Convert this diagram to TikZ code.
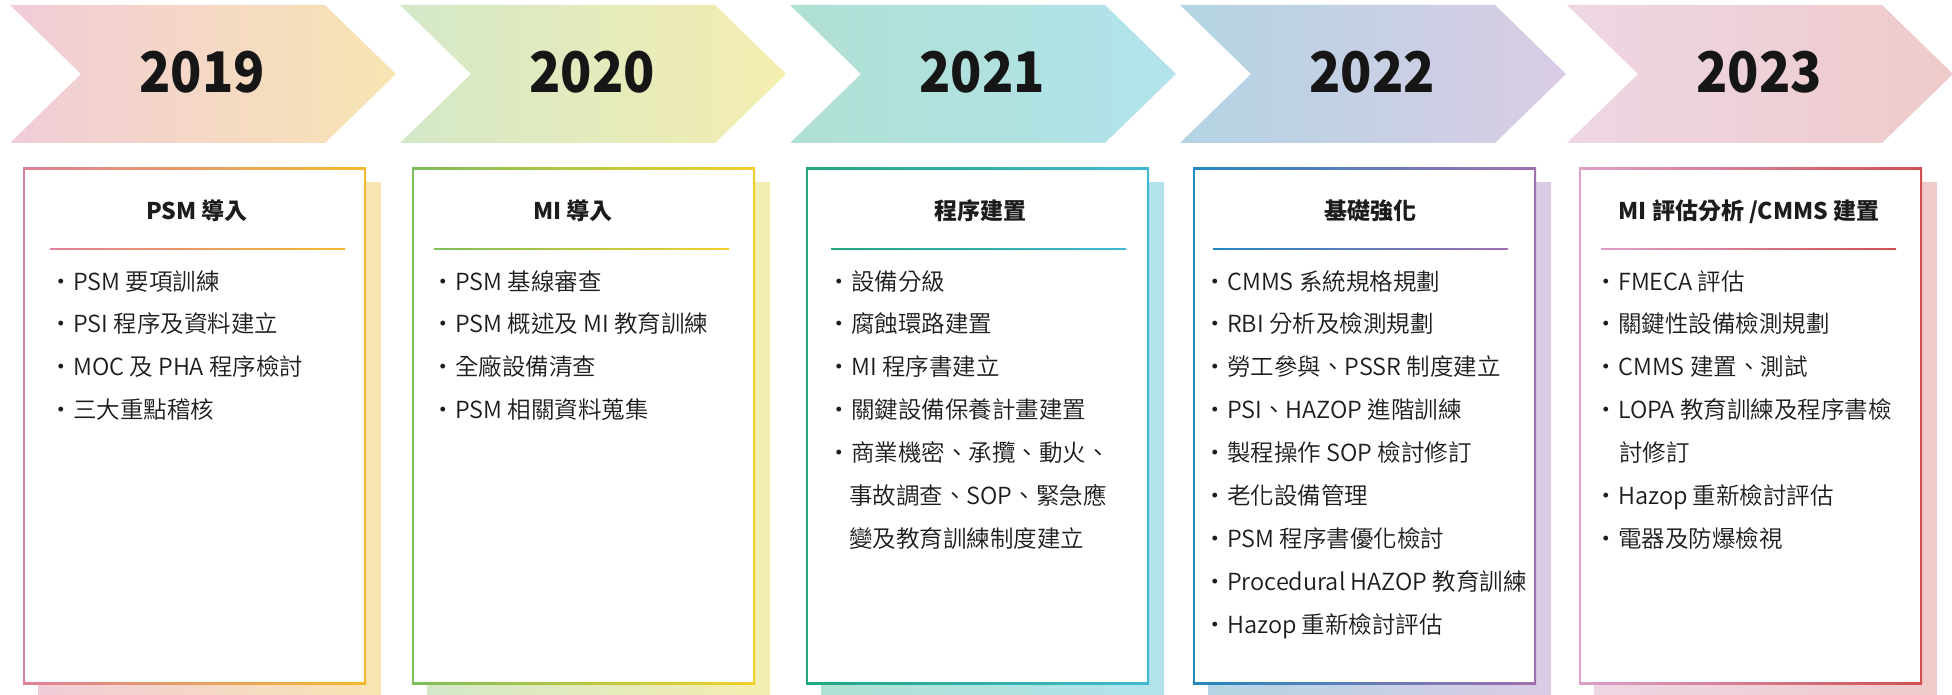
\documentclass[tikz,border=0pt]{standalone}
\usepackage{fontspec}
\setmainfont{Noto Sans CJK TC}
\newfontfamily\itemfont{Noto Sans CJK TC DemiLight}

% chevron / shadow gradient colours
\definecolor{aCL}{HTML}{F0CCD8}\definecolor{aCR}{HTML}{F8E4B2}
\definecolor{bCL}{HTML}{D3E8C8}\definecolor{bCR}{HTML}{F5EDB0}
\definecolor{cCL}{HTML}{B0E0D3}\definecolor{cCR}{HTML}{B2E3EC}
\definecolor{dCL}{HTML}{B3D4E4}\definecolor{dCR}{HTML}{DACCE4}
\definecolor{eCL}{HTML}{EED6E4}\definecolor{eCR}{HTML}{EECACA}
% frame / divider gradient colours
\definecolor{aBL}{HTML}{E08098}\definecolor{aBR}{HTML}{F2B92E}
\definecolor{bBL}{HTML}{7DBE5A}\definecolor{bBR}{HTML}{F2D02A}
\definecolor{cBL}{HTML}{20A880}\definecolor{cBR}{HTML}{40B8D2}
\definecolor{dBL}{HTML}{2288C0}\definecolor{dBR}{HTML}{A070B0}
\definecolor{eBL}{HTML}{DDA0C8}\definecolor{eBR}{HTML}{D05050}
\definecolor{ink}{HTML}{1C1C1C}
\definecolor{yearink}{HTML}{161616}

% #1 colour key, #2 chevron left, #3 box left, #4 year, #5 title, #6 title centre, #7 divider left
\newcommand\phase[7]{%
  \shade[left color=#1CL,right color=#1CR]
    (#2,5) -- (#2+315,5) -- (#2+386,74) -- (#2+315,143) -- (#2,143) -- (#2+71,74) -- cycle;
  \node[yearlabel] (year#1) at (#2+192,93) {\scalebox{0.92}[1]{#4}};
  \shade[left color=#1CL,right color=#1CR] (#3+15,183) rectangle (#3+358,695);
  \shade[left color=#1BL,right color=#1BR] (#3,168) rectangle (#3+343,684);
  \fill[white] (#3+1.6,169.6) rectangle (#3+341.4,682.4);
  \shade[left color=#1BL,right color=#1BR] (#7,248.3) rectangle (#7+295,249.7);
  \node[titlelabel] (title#1) at (#6,220) {#5};
}

\begin{document}
\begin{tikzpicture}[x=1pt,y=-1pt,
  yearlabel/.style={anchor=base,inner sep=0,font=\fontsize{56}{56}\selectfont\bfseries,text=yearink},
  titlelabel/.style={anchor=base,inner sep=0,font=\fontsize{23}{26}\selectfont\bfseries,text=ink},
  itemlabel/.style={anchor=base west,inner sep=0,font=\itemfont\fontsize{23.5}{26}\selectfont,text=ink},
]
\useasboundingbox (0,0) rectangle (1952,695);

\phase{a}{10}{23}{2019}{PSM 導入}{197}{50}
\phase{b}{400}{412}{2020}{MI 導入}{573}{434}
\phase{c}{790}{806}{2021}{程序建置}{980}{831}
\phase{d}{1180}{1193}{2022}{基礎強化}{1370}{1213}
\phase{e}{1567}{1579}{2023}{MI 評估分析 /CMMS 建置}{1749}{1601}

% 2019 items
\node[itemlabel] (a1) at (49.5,290)   {・PSM 要項訓練};
\node[itemlabel] (a2) at (49.5,332.9) {・PSI 程序及資料建立};
\node[itemlabel] (a3) at (49.5,375.8) {・MOC 及 PHA 程序檢討};
\node[itemlabel] (a4) at (49.5,418.7) {・三大重點稽核};

% 2020 items
\node[itemlabel] (b1) at (431.5,290)   {・PSM 基線審查};
\node[itemlabel] (b2) at (431.5,332.9) {・PSM 概述及 MI 教育訓練};
\node[itemlabel] (b3) at (431.5,375.8) {・全廠設備清查};
\node[itemlabel] (b4) at (431.5,418.7) {・PSM 相關資料蒐集};

% 2021 items
\node[itemlabel] (c1) at (827.5,290)   {・設備分級};
\node[itemlabel] (c2) at (827.5,332.9) {・腐蝕環路建置};
\node[itemlabel] (c3) at (827.5,375.8) {・MI 程序書建立};
\node[itemlabel] (c4) at (827.5,418.7) {・關鍵設備保養計畫建置};
\node[itemlabel] (c5) at (827.5,461.6) {・商業機密、承攬、動火、};
\node[itemlabel] (c6) at (849,504.5) {事故調查、SOP、緊急應};
\node[itemlabel] (c7) at (849,547.4) {變及教育訓練制度建立};

% 2022 items
\node[itemlabel] (d1) at (1203.5,290)   {・CMMS 系統規格規劃};
\node[itemlabel] (d2) at (1203.5,332.9) {・RBI 分析及檢測規劃};
\node[itemlabel] (d3) at (1203.5,375.8) {・勞工參與、PSSR 制度建立};
\node[itemlabel] (d4) at (1203.5,418.7) {・PSI、HAZOP 進階訓練};
\node[itemlabel] (d5) at (1203.5,461.6) {・製程操作 SOP 檢討修訂};
\node[itemlabel] (d6) at (1203.5,504.5) {・老化設備管理};
\node[itemlabel] (d7) at (1203.5,547.4) {・PSM 程序書優化檢討};
\node[itemlabel] (d8) at (1203.5,590.3) {・Procedural HAZOP 教育訓練};
\node[itemlabel] (d9) at (1203.5,633.2) {・Hazop 重新檢討評估};

% 2023 items
\node[itemlabel] (e1) at (1594.5,290)   {・FMECA 評估};
\node[itemlabel] (e2) at (1594.5,332.9) {・關鍵性設備檢測規劃};
\node[itemlabel] (e3) at (1594.5,375.8) {・CMMS 建置、測試};
\node[itemlabel] (e4) at (1594.5,418.7) {・LOPA 教育訓練及程序書檢};
\node[itemlabel] (e5) at (1619,461.6) {討修訂};
\node[itemlabel] (e6) at (1594.5,504.5) {・Hazop 重新檢討評估};
\node[itemlabel] (e7) at (1594.5,547.4) {・電器及防爆檢視};
\end{tikzpicture}
\end{document}
